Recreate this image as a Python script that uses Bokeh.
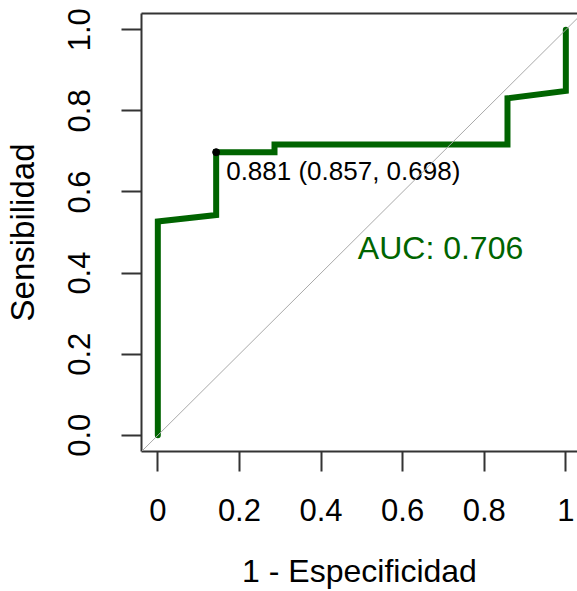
from bokeh.plotting import figure
from bokeh.models import Range1d, FixedTicker, LinearAxis, Slope, ColumnDataSource
from bokeh.embed import file_html
from bokeh.resources import INLINE
from bokeh.core.properties import value

# ---- data ----
fpr = [0.0, 0.0, 0.143, 0.143, 0.286, 0.286, 0.857, 0.857, 1.0, 1.0]   # 1 - Especificidad
tpr = [0.0, 0.527, 0.543, 0.698, 0.698, 0.717, 0.717, 0.831, 0.849, 1.0]  # Sensibilidad

best_threshold = [0.881]
best_specificity = [0.857]
best_sensitivity = [0.698]
auc_value = 0.706

x_ticks = [0, 0.2, 0.4, 0.6, 0.8, 1]
x_tick_labels = ["0", "0.2", "0.4", "0.6", "0.8", "1"]
y_ticks = [0, 0.2, 0.4, 0.6, 0.8, 1]
y_tick_labels = ["0.0", "0.2", "0.4", "0.6", "0.8", "1.0"]

x_title = "1 - Especificidad"
y_title = "Sensibilidad"

# ---- styling ----
FONT = "Liberation Sans"
GREEN = "#006400"
AXIS = "#333333"

p = figure(width=577, height=591, output_backend="svg", toolbar_location=None,
           x_range=Range1d(-0.04, 1.0286), y_range=Range1d(-0.04, 1.04),
           min_border_left=141, min_border_right=0, min_border_top=13, min_border_bottom=139,
           background_fill_color="white", border_fill_color="white")
p.outline_line_color = None
p.grid.visible = False
p.renderers = []
p.below = []
p.left = []


def style_axis(ax, ticks, labels, title, vertical=False):
    ax.ticker = FixedTicker(ticks=ticks)
    ax.major_label_overrides = {t: l for t, l in zip(ticks, labels)}
    ax.axis_label = title
    ax.axis_line_color = AXIS
    ax.axis_line_width = 2
    ax.major_tick_line_color = AXIS
    ax.major_tick_line_width = 2
    ax.major_tick_out = 20
    ax.major_tick_in = 0
    ax.minor_tick_line_color = None
    ax.major_label_text_font = FONT
    ax.major_label_text_font_size = "31px"
    ax.major_label_text_color = "black"
    ax.axis_label_text_font = FONT
    ax.axis_label_text_font_size = "32px"
    ax.axis_label_text_font_style = "normal"
    ax.axis_label_text_color = "black"
    if vertical:
        ax.major_label_orientation = "vertical"


xax = LinearAxis()
style_axis(xax, x_ticks, x_tick_labels, x_title)
xax.major_label_standoff = 27
xax.axis_label_standoff = 29
p.add_layout(xax, "below")

yax = LinearAxis()
style_axis(yax, y_ticks, y_tick_labels, y_title, vertical=True)
yax.axis_label_text_font_size = "33px"
yax.major_label_standoff = 31
yax.axis_label_standoff = 25
p.add_layout(yax, "left")

# top border of the R plot box
top = LinearAxis(ticker=FixedTicker(ticks=[]))
top.axis_line_color = AXIS
top.axis_line_width = 2
top.major_tick_out = 0
top.major_tick_in = 0
top.minor_tick_out = 0
top.minor_tick_in = 0
top.major_label_standoff = 0
top.major_label_text_font_size = "0px"
p.add_layout(top, "above")

# identity line
p.add_layout(Slope(gradient=1, y_intercept=0, line_color="#a9a9a9", line_width=1))

# ROC curve
p.line(fpr, tpr, line_color=GREEN, line_width=6, line_join="miter", line_cap="round")

# best threshold
best_fpr = [1 - s for s in best_specificity]
thr_src = ColumnDataSource(dict(
    x=best_fpr, y=best_sensitivity,
    label=[f"{t:.3f} ({s:.3f}, {e:.3f})" for t, s, e in zip(best_threshold, best_specificity, best_sensitivity)]))
p.scatter("x", "y", source=thr_src, size=7, color="black")
p.text("x", "y", text="label", source=thr_src, x_offset=10, y_offset=4,
       text_font=value(FONT), text_font_size="26px", text_color="black",
       text_align="left", text_baseline="top")

# AUC
auc_src = ColumnDataSource(dict(x=[0.5], y=[0.5], label=[f"AUC: {auc_value:.3f}"]))
p.text("x", "y", text="label", source=auc_src, x_offset=-4, y_offset=-3,
       text_font=value(FONT), text_font_size="32px", text_color=GREEN,
       text_align="left", text_baseline="top")

open("out.html", "w").write(file_html(p, INLINE))
